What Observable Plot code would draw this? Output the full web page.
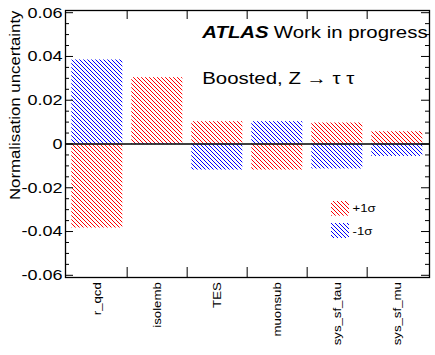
<!DOCTYPE html>
<html><head><meta charset="utf-8">
<script src="https://cdn.jsdelivr.net/npm/d3@7"></script>
<script src="https://cdn.jsdelivr.net/npm/@observablehq/plot@0.6"></script>
<style>body{margin:0;background:#fff;} svg{display:block;}</style>
</head><body>
<script>
// ---- data ----
const categories = ["r_qcd", "isolemb", "TES", "muonsub", "sys_sf_tau", "sys_sf_mu"];
const plusOneSigma = [-0.0384, 0.0303, 0.0102, -0.0119, 0.0096, 0.0056];
const minusOneSigma = [0.0384, 0.0003, -0.0119, 0.0102, -0.0114, -0.0057];
const yTicks = [-0.06, -0.04, -0.02, 0, 0.02, 0.04, 0.06];
const yMinorTicks = d3.range(-60, 61, 5).filter(v => v % 20 !== 0).map(v => v / 1000);
const seriesLabels = ["+1\u03c3", "-1\u03c3"];
const yTitle = "Normalisation uncertainty";
const atlasBold = "ATLAS";
const atlasRest = "Work in progress";
const regionLabel = "Boosted, Z \u2192 \u03c4 \u03c4";

// ---- layout ----
const W = 435, H = 355, ML = 65, MR = 6, MT = 10, MB = 78;
const FW = W - ML - MR, FH = H - MT - MB, BW = FW / categories.length;

const rows = categories.map((c, i) => ({category: c, up: plusOneSigma[i], down: minusOneSigma[i]}));
const font = "'Liberation Sans', Arial, Helvetica, sans-serif";

const svg = Plot.plot({
  width: W, height: H,
  marginLeft: ML, marginRight: MR, marginTop: MT, marginBottom: MB,
  style: {fontFamily: font, fontSize: "14px", background: "white", color: "black"},
  x: {type: "band", domain: categories, padding: 0, axis: null},
  y: {domain: [-0.061, 0.061], axis: null},
  marks: [
    Plot.barY(rows, {x: "category", y: "up", fill: "url(#hatchRed)", insetLeft: 4.3, insetRight: 4.7}),
    Plot.barY(rows, {x: "category", y: "down", fill: "url(#hatchBlue)", insetLeft: 4.3, insetRight: 4.7}),
    Plot.ruleY([0], {stroke: "black", strokeWidth: 1.5}),
    // y ticks (left and right, inward)
    Plot.ruleY(yTicks, {stroke: "black", strokeWidth: 1, insetRight: FW - 8}),
    Plot.ruleY(yMinorTicks, {stroke: "black", strokeWidth: 1, insetRight: FW - 4}),
    Plot.ruleY(yTicks, {stroke: "black", strokeWidth: 1, insetLeft: FW - 8}),
    Plot.ruleY(yMinorTicks, {stroke: "black", strokeWidth: 1, insetLeft: FW - 4}),
    // x ticks at band boundaries (bottom and top, inward)
    Plot.ruleX(categories.slice(1), {x: d => d, dx: -BW / 2, stroke: "black", strokeWidth: 1, insetTop: FH - 10}),
    Plot.ruleX(categories.slice(1), {x: d => d, dx: -BW / 2, stroke: "black", strokeWidth: 1, insetBottom: FH - 9}),
    Plot.frame({stroke: "black", strokeWidth: 1.3}),
    // y tick labels
    Plot.axisY(yTicks, {anchor: "left", tickSize: 0, tickPadding: 3, fontSize: 15,
      tickFormat: d => d === 0 ? "0" : d.toFixed(2), label: null}),
    // x labels
    Plot.text(categories, {x: d => d, text: d => d, frameAnchor: "bottom", rotate: -90,
      textAnchor: "end", lineAnchor: "middle", dy: 4.7, fontSize: 11}),
    // y title
    Plot.text([yTitle], {text: d => d, frameAnchor: "top-left", dx: -46, dy: 0, rotate: -90,
      textAnchor: "end", lineAnchor: "bottom", fontSize: 14}),
    // annotations
    Plot.text([atlasBold], {text: d => d, frameAnchor: "top-left", dx: 136.7, dy: 27.3,
      textAnchor: "start", lineAnchor: "bottom", fontSize: 17, fontWeight: "bold", fontStyle: "italic"}),
    Plot.text([atlasRest], {text: d => d, frameAnchor: "top-left", dx: 208.3, dy: 27.3,
      textAnchor: "start", lineAnchor: "bottom", fontSize: 17}),
    Plot.text([regionLabel], {text: d => d, frameAnchor: "top-left", dx: 136.7, dy: 73.3,
      textAnchor: "start", lineAnchor: "bottom", fontSize: 17}),
    // legend
    Plot.rect([0], {fill: "url(#hatchRed)", insetLeft: 266, insetRight: 80, insetTop: 191, insetBottom: 61.3}),
    Plot.rect([0], {fill: "url(#hatchBlue)", insetLeft: 266, insetRight: 80, insetTop: 213, insetBottom: 39}),
    Plot.text([seriesLabels[0]], {text: d => d, frameAnchor: "top-left", dx: 287, dy: 198.3,
      textAnchor: "start", lineAnchor: "middle", fontSize: 11}),
    Plot.text([seriesLabels[1]], {text: d => d, frameAnchor: "top-left", dx: 287, dy: 220.7,
      textAnchor: "start", lineAnchor: "middle", fontSize: 11})
  ]
});

// hatch patterns (ROOT-like thin, pixel-crisp diagonal lines)
const defs = d3.select(svg).insert("defs", ":first-child");
[["hatchRed", "#ff0000"], ["hatchBlue", "#0000ff"]].forEach(([id, col]) => {
  const p = defs.append("pattern").attr("id", id).attr("patternUnits", "userSpaceOnUse")
    .attr("width", 4).attr("height", 4);
  p.append("path").attr("d", "M-1,-1L5,5M-1,3L1,5M3,-1L5,1")
    .attr("stroke", col).attr("stroke-width", 1).attr("fill", "none")
    .attr("shape-rendering", "crispEdges");
});

document.body.append(svg);

// ROOT-style Helvetica is wider than Arial: stretch text horizontally
d3.select(svg).selectAll("text").each(function() {
  const w = this.getComputedTextLength();
  if (w > 0) {
    this.setAttribute("textLength", (w * 1.2).toFixed(2));
    this.setAttribute("lengthAdjust", "spacingAndGlyphs");
  }
});
</script>
</body></html>
